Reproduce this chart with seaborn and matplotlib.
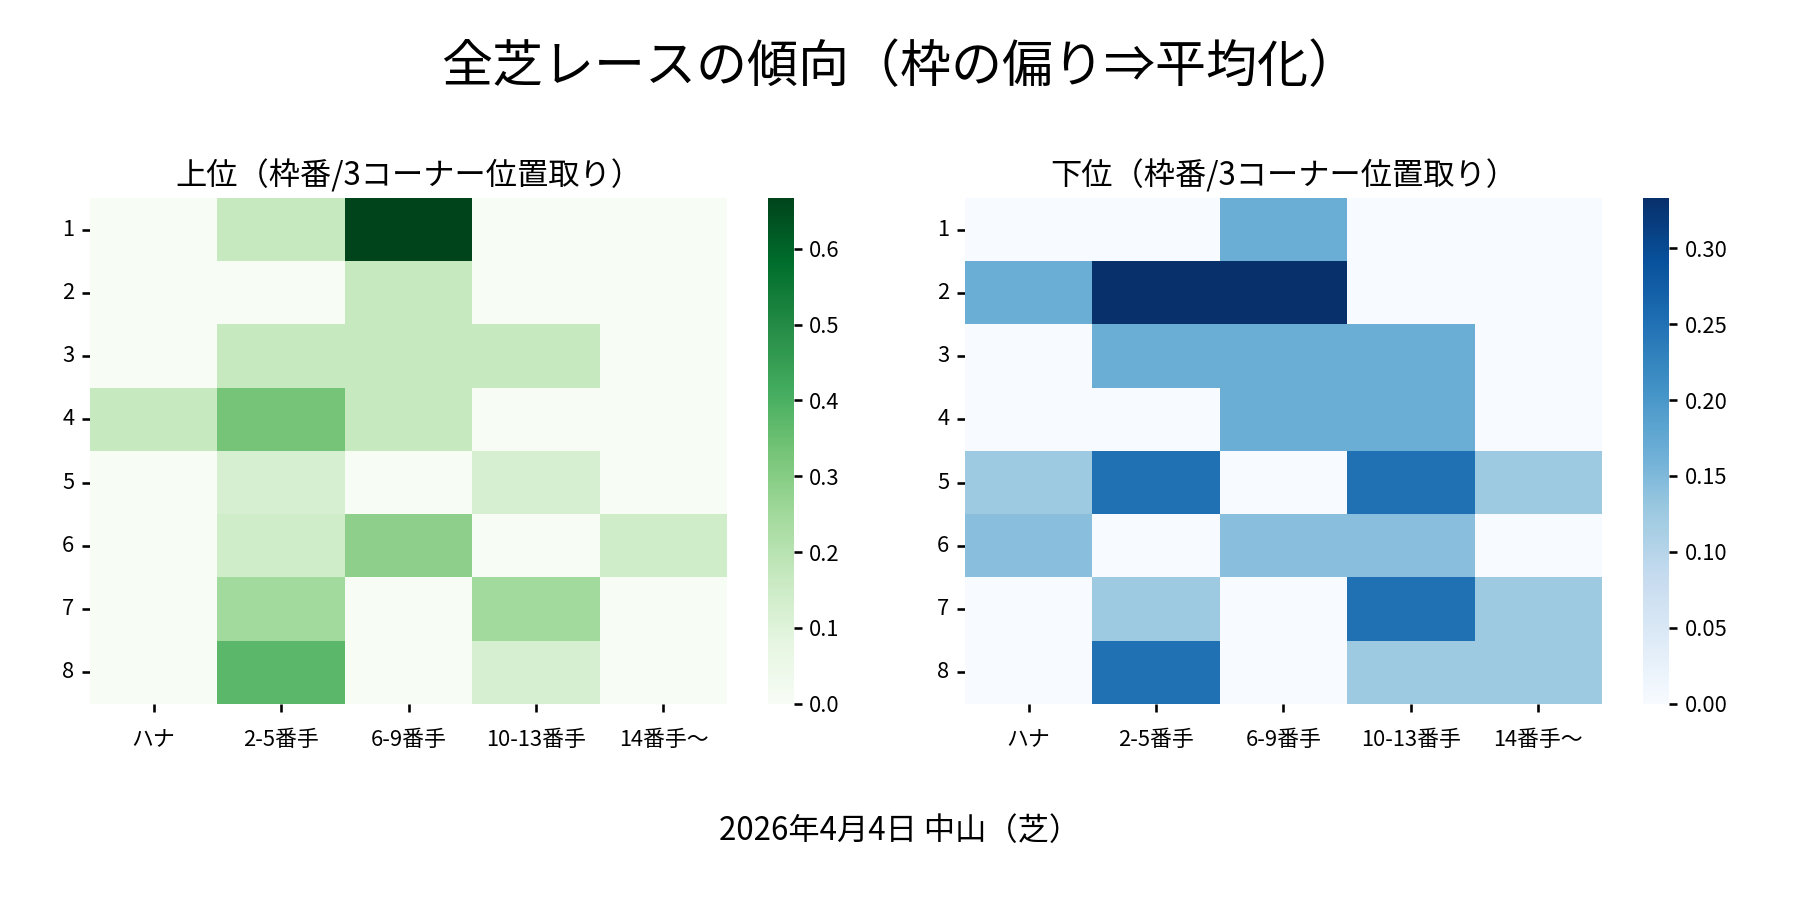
import numpy as np
import pandas as pd
import matplotlib
matplotlib.use("Agg")
import matplotlib.pyplot as plt
import seaborn as sns

sns.set_theme(style="white")
plt.rcParams['font.family'] = ['Noto Sans CJK JP', 'DejaVu Sans']
plt.rcParams['text.color'] = 'black'
plt.rcParams['xtick.color'] = 'black'
plt.rcParams['ytick.color'] = 'black'
plt.rcParams['axes.labelcolor'] = 'black'

# data: rows = 枠番, columns = 3コーナー位置取り
waku = [1, 2, 3, 4, 5, 6, 7, 8]
positions = ["ハナ", "2-5番手", "6-9番手", "10-13番手", "14番手〜"]

upper = [
    [0.0, 0.167, 0.667, 0.0, 0.0],
    [0.0, 0.0, 0.167, 0.0, 0.0],
    [0.0, 0.167, 0.167, 0.167, 0.0],
    [0.167, 0.333, 0.167, 0.0, 0.0],
    [0.0, 0.125, 0.0, 0.125, 0.0],
    [0.0, 0.143, 0.286, 0.0, 0.143],
    [0.0, 0.25, 0.0, 0.25, 0.0],
    [0.0, 0.375, 0.0, 0.125, 0.0],
]
lower = [
    [0.0, 0.0, 0.167, 0.0, 0.0],
    [0.167, 0.333, 0.333, 0.0, 0.0],
    [0.0, 0.167, 0.167, 0.167, 0.0],
    [0.0, 0.0, 0.167, 0.167, 0.0],
    [0.125, 0.25, 0.0, 0.25, 0.125],
    [0.143, 0.0, 0.143, 0.143, 0.0],
    [0.0, 0.125, 0.0, 0.25, 0.125],
    [0.0, 0.25, 0.0, 0.125, 0.125],
]

df_up = pd.DataFrame(upper, index=waku, columns=positions)
df_low = pd.DataFrame(lower, index=waku, columns=positions)

fig = plt.figure(figsize=(12, 6), dpi=150)
ax1 = fig.add_axes([0.05, 0.218, 0.354, 0.562])
cax1 = fig.add_axes([0.4265, 0.218, 0.0144, 0.562])
ax2 = fig.add_axes([0.536, 0.218, 0.354, 0.562])
cax2 = fig.add_axes([0.913, 0.218, 0.0144, 0.562])

sns.heatmap(df_up, cmap="Greens", ax=ax1, cbar_ax=cax1)
sns.heatmap(df_low, cmap="Blues", ax=ax2, cbar_ax=cax2)

for ax, title in [(ax1, "上位（枠番/3コーナー位置取り）"), (ax2, "下位（枠番/3コーナー位置取り）")]:
    ax.set_title(title, fontsize=15)
    ax.set_xlabel("")
    ax.set_ylabel("")
    ax.tick_params(axis='both', labelsize=10.5, length=4)
    ax.tick_params(axis='x', bottom=True, length=4, pad=8)
    ax.tick_params(axis='y', left=True)
    plt.setp(ax.get_yticklabels(), rotation=0)
    plt.setp(ax.get_xticklabels(), rotation=0)

for cax in (cax1, cax2):
    cax.tick_params(labelsize=10.5, right=True, length=4)

fig.suptitle("全芝レースの傾向（枠の偏り⇒平均化）", fontsize=24.5, y=0.955)
fig.text(0.5, 0.077, "2026年4月4日 中山（芝）", ha="center", va="center", fontsize=15)

fig.savefig("out.png", dpi=150)
